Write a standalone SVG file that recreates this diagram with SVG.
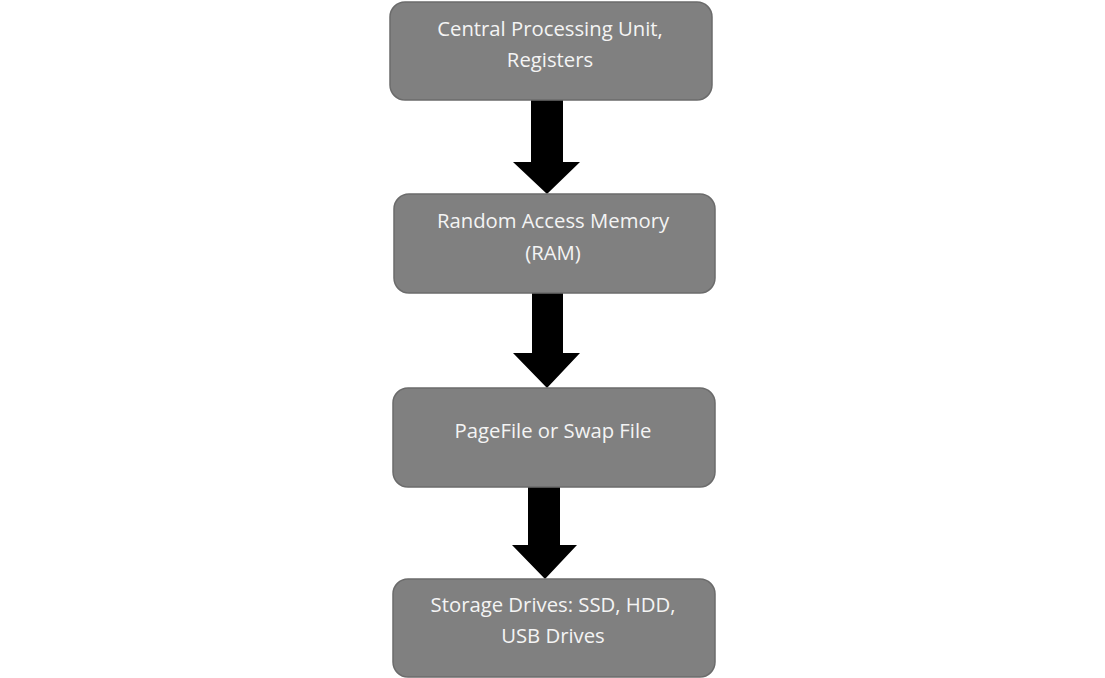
<svg xmlns="http://www.w3.org/2000/svg" width="1105" height="678" viewBox="0 0 1105 678">
<style>
.box{fill:#808080;stroke:#6b6b6b;stroke-width:1.5}
.t{font-family:"Open Sans","Liberation Sans",sans-serif;font-size:20.3px;fill:#f4f4f4;text-anchor:middle;dominant-baseline:central}
.arr{fill:#000}
</style>
<rect width="1105" height="678" fill="#fff"/>
<g id="connectors">
<polygon class="arr" points="531,100 563,100 563,162 580,162 547,194 513,162 531,162"/>
<polygon class="arr" points="532,293 563,293 563,353 580,353 547,388 513,353 532,353"/>
<polygon class="arr" points="528,487 560,487 560,545 577,545 545,579 512,545 528,545"/>
</g>
<g id="cpu">
<rect class="box" x="390" y="2" width="322" height="98" rx="15"/>
<text class="t" x="550" y="28">Central Processing Unit,</text>
<text class="t" x="550" y="59">Registers</text>
</g>
<g id="ram">
<rect class="box" x="394" y="194" width="321" height="99" rx="15"/>
<text class="t" x="553" y="220">Random Access Memory</text>
<text class="t" x="553" y="252">(RAM)</text>
</g>
<g id="pagefile">
<rect class="box" x="393" y="388" width="322" height="99" rx="15"/>
<text class="t" x="553" y="430">PageFile or Swap File</text>
</g>
<g id="storage">
<rect class="box" x="393" y="579" width="322" height="98" rx="15"/>
<text class="t" x="553" y="604">Storage Drives: SSD, HDD,</text>
<text class="t" x="553" y="635">USB Drives</text>
</g>
</svg>
